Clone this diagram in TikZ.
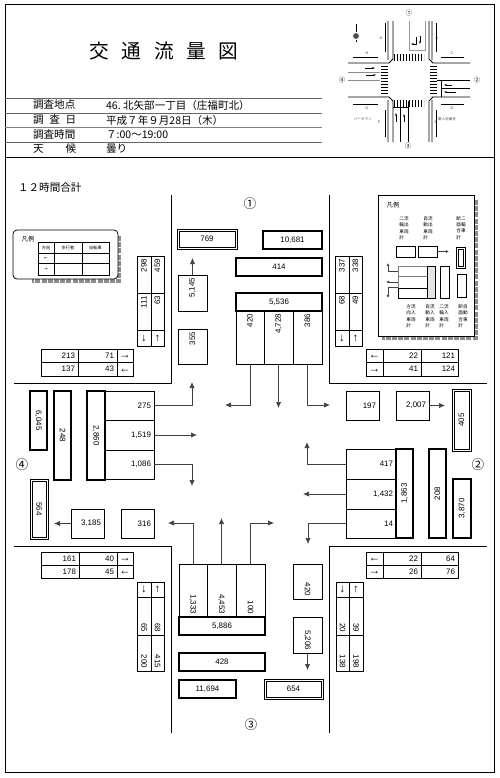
\documentclass[tikz,border=0pt]{standalone}
\usepackage{fontspec}
\setmainfont{Liberation Sans}
\newfontfamily\jp{Noto Sans CJK JP}
\newfontfamily\dejavu{DejaVu Sans}
\usepackage{tikz}
\usetikzlibrary{arrows.meta, positioning, shapes.geometric, calc}

\begin{document}
\begin{tikzpicture}[
    x=0.5mm, y=-0.5mm,
    rule/.style={line width=0.4mm},
    cnt/.style 2 args={
        draw, line width=0.35mm, inner xsep=1.5mm, inner ysep=0pt,
        text width=(#1-6)*0.5mm, minimum height=#2*0.5mm,
        font=\fontsize{11.3}{12}\selectfont, align=right
    },
    ctr/.style={align=center},
    heavy/.style={line width=1mm},
    dirc/.style 2 args={
        draw, line width=0.35mm, inner sep=0pt,
        minimum width=#1*0.5mm, minimum height=#2*0.5mm,
        text height=9pt, text depth=0pt,
        font=\fontsize{16}{16}\selectfont
    },
    flow/.style={-{Latex[length=3mm,width=2.6mm]}, line width=0.35mm, color=black!75},
    head/.style={anchor=west, inner sep=0pt, font=\jp\fontsize{15}{16}\selectfont},
    side/.style={inner sep=0pt, font=\jp\fontsize{18}{18}\selectfont},
    tiny/.style={inner sep=0pt, align=left, font=\jp\fontsize{6.6}{9.2}\selectfont},
    wee/.style={inner sep=0pt, font=\fontsize{5.5}{6}\selectfont, color=black!70},
    lgd/.style 2 args={
        draw, line width=0.35mm, inner sep=0pt,
        minimum width=#1*0.5mm, minimum height=#2*0.5mm,
        font=\jp\fontsize{6}{6}\selectfont
    },
    shadow/.style={line width=1.6mm, color=black!45, dash pattern=on 2.5mm off 0.6mm}
]
    \useasboundingbox (0,0) rectangle (500,778);

    % Sheet frame and title block
    \draw[rule] (5,4) rectangle (494,772);
    \draw[rule] (5,157) -- (494,157);
    \draw[rule, black!60] (5,98) -- (322,98);
    \draw[rule, black!60] (5,113) -- (322,113);
    \draw[rule, black!50] (5,127) -- (322,127);
    \draw[rule, black!60] (5,142) -- (322,142);
    \node[inner sep=0pt, font=\jp\fontsize{28}{28}\selectfont] (title) at (164,51)
        {交\hspace{18pt}通\hspace{18pt}流\hspace{18pt}量\hspace{18pt}図};

    \node[head, text width=21.5mm] (place) at (33,105) {調査地点};
    \node[head, text width=21.5mm] (day)   at (33,120) {調\hfill 査\hfill 日};
    \node[head, text width=21.5mm] (hours) at (33,135) {調査時間};
    \node[head, text width=21.5mm] (sky)   at (33,149) {天\hfill 候};
    \node[head] (placev) at (106,105) {46.\ 北矢部一丁目（庄福町北）};
    \node[head] (dayv)   at (106,120) {平成７年９月28日（木）};
    \node[head] (hoursv) at (106,135) {７:00〜19:00};
    \node[head] (skyv)   at (106,149) {曇り};
    \node[head] (total)  at (18,187) {１２時間合計};

    % Key map
    \node[side, font=\jp\fontsize{9}{9}\selectfont] (map1) at (409,13) {①};
    \node[side, font=\jp\fontsize{9}{9}\selectfont] (map2) at (477,80) {②};
    \node[side, font=\jp\fontsize{9}{9}\selectfont] (map3) at (408,146) {③};
    \node[side, font=\jp\fontsize{9}{9}\selectfont] (map4) at (342,80) {④};
    \draw[rule] (388,21) -- (388,60) (393,21) -- (393,59) -- (389,63) -- (348,63);
    \draw[rule] (432,21) -- (432,60) (429,21) -- (429,59) -- (433,63) -- (470,63);
    \draw[rule] (388,142) -- (388,100) (393,142) -- (393,101) -- (389,97) -- (348,97);
    \draw[rule] (432,142) -- (432,100) (429,142) -- (429,101) -- (433,97) -- (470,97);
    \draw[black!40] (409,21) -- (409,50) -| (425,21);
    \draw[rule] (400,101) -- (400,142) (408,101) -- (408,142) (393,107) -- (408,107);
    \draw[black!45] (348,72) -- (380,72) (348,80) -- (380,80);
    \draw[rule] (437,80) -- (470,80) (441,88) -- (470,88) (441,80) -- (441,97);
    % crosswalks
    \draw[line width=3.5mm, dash pattern=on 0.5mm off 1mm] (394,57) -- (424,57);
    \draw[line width=3.5mm, dash pattern=on 0.5mm off 1mm] (394,103.5) -- (424,103.5);
    \draw[line width=3.5mm, dash pattern=on 0.5mm off 1mm] (384.5,66) -- (384.5,96);
    \draw[line width=3.5mm, dash pattern=on 0.5mm off 1mm] (433,66) -- (433,96);
    % lane arrows
    \draw[-{Latex[length=1.2mm]}] (416,37) |- (411,44);
    \draw[-{Latex[length=1.2mm]}] (420,36) -- (420,44);
    \draw[-{Latex[length=1.2mm]}] (396,122) -- (396,113);
    \draw[-{Latex[length=1.2mm]}] (404,122) -- (404,114);
    \draw[-{Latex[length=1.2mm]}] (365,68) -- (375,68);
    \draw[-{Latex[length=1.2mm]}] (366,75) -- (376,75);
    \draw[-{Latex[length=1.2mm]}] (452,85) -- (444,85);
    \draw[-{Latex[length=1.2mm]}] (456,92) -- (444,92);
    % measuring lines
    \draw (385,23) -- (385,52) (436,23) -- (436,52) (385,110) -- (385,137) (436,110) -- (436,137);
    \draw (353,57) -- (378,57) (441,57) -- (464,57) (353,104) -- (378,104) (441,104) -- (464,104);
    \node[wee] (ma) at (381,38) {A};
    \node[wee] (mb) at (437,38) {B};
    \node[wee] (mc) at (452,53) {C};
    \node[wee] (md) at (452,108) {D};
    \node[wee] (me) at (436,122) {E};
    \node[wee] (mf) at (379,122) {F};
    \node[wee] (mg) at (367,108) {G};
    \node[wee] (mh) at (367,53) {H};
    \node[wee, font=\jp\fontsize{5}{5}\selectfont] (park) at (363,119) {パーキマン};
    \node[wee, font=\jp\fontsize{5}{5}\selectfont] (lot)  at (447,119) {第人地番号};
    % north mark
    \node[star, star points=8, fill=black!70, inner sep=0pt, minimum size=3.5mm] (north) at (356,36) {};
    \draw (356,24) -- (north) -- (356,42);

    % Approach numbers
    \node[side] (no1) at (250,204) {①};
    \node[side] (no2) at (478,465) {②};
    \node[side] (no3) at (251,725) {③};
    \node[side] (no4) at (22,465)  {④};

    % Road corners
    \draw[rule] (171,195) -- (171,383) -- (14,383);
    \draw[rule] (329,195) -- (329,383) -- (487,383);
    \draw[rule] (171,733) -- (171,546) -- (14,546);
    \draw[rule] (329,733) -- (329,546) -- (487,546);

    % Approach 1
    \node[lgd={60}{20}] (n769rim) at (207,239) {};
    \node[cnt={56}{16}, ctr] (n769) at (207,239) {769};
    \node[cnt={59}{18}, heavy, ctr] (n10681) at (292.5,240) {10,681};
    \node[cnt={86}{18}, heavy, ctr] (n414) at (279,267) {414};
    \node[cnt={86}{18}, heavy, ctr] (n5536) at (279,302) {5,536};
    \node[cnt={53}{28}, rotate=90] (n420) at (250,337.5) {420};
    \node[cnt={53}{29}, rotate=90] (n4728) at (278.5,337.5) {4,728};
    \node[cnt={53}{29}, rotate=90] (n386) at (307.5,337.5) {386};
    \node[cnt={36}{29}, rotate=90] (n5145) at (192.5,293) {5,145};
    \node[cnt={35}{29}, rotate=90] (n355) at (192.5,346.5) {355};
    \coordinate (n5145tip) at (192.5,258);
    \coordinate (n420tip) at (225,405);
    \coordinate (n4728tip) at (278.5,408);
    \coordinate (n386tip) at (330,405);
    \draw[flow] (n5145) -- (n5145tip);
    \draw[flow] (n420.west) |- (n420tip);
    \draw[flow] (n4728.west) -- (n4728tip);
    \draw[flow] (n386.west) |- (n386tip);

    % Approach 4
    \node[cnt={59}{17}, heavy, ctr, rotate=-90] (w6045) at (38.5,420.5) {6,045};
    \node[cnt={89}{17}, heavy, ctr, rotate=-90] (w248) at (62.5,435.5) {248};
    \node[cnt={89}{18}, heavy, ctr, rotate=-90] (w2860) at (96,435.5) {2,860};
    \node[cnt={49}{29}] (w275) at (129.5,405.5) {275};
    \node[cnt={49}{30}] (w1519) at (129.5,435) {1,519};
    \node[cnt={49}{29}] (w1086) at (129.5,464.5) {1,086};
    \node[lgd={18}{60}] (w564rim) at (39,509) {};
    \node[cnt={56}{14}, ctr, rotate=-90] (w564) at (39,509) {564};
    \node[cnt={33}{29}] (w3185) at (87.5,523.5) {3,185};
    \node[cnt={33}{29}] (w316) at (137.5,523.5) {316};
    \coordinate (w275tip) at (192,382);
    \coordinate (w1519tip) at (197,435);
    \coordinate (w1086tip) at (192,486);
    \coordinate (w3185tip) at (54,523.5);
    \draw[flow] (w275.east) -| (w275tip);
    \draw[flow] (w1519) -- (w1519tip);
    \draw[flow] (w1086.east) -| (w1086tip);
    \draw[flow] (w3185) -- (w3185tip);

    % Approach 2
    \node[cnt={33}{29}] (e197) at (362.5,405.5) {197};
    \node[cnt={33}{29}] (e2007) at (412.5,405.5) {2,007};
    \node[lgd={19}{62}] (e405rim) at (461.5,420) {};
    \node[cnt={58}{15}, ctr, rotate=90] (e405) at (461.5,420) {405};
    \node[cnt={50}{30}] (e417) at (371,464) {417};
    \node[cnt={50}{30}] (e1432) at (371,494) {1,432};
    \node[cnt={50}{29}] (e14) at (371,523.5) {14};
    \node[cnt={89}{17}, heavy, ctr, rotate=90] (e1863) at (404.5,493.5) {1,863};
    \node[cnt={89}{17}, heavy, ctr, rotate=90] (e208) at (437.5,493.5) {208};
    \node[cnt={59}{18}, heavy, ctr, rotate=90] (e3870) at (462,508.5) {3,870};
    \coordinate (e2007tip) at (445,405.5);
    \coordinate (e417tip) at (307,442);
    \coordinate (e1432tip) at (303,494);
    \coordinate (e14tip) at (308,544);
    \draw[flow] (e2007) -- (e2007tip);
    \draw[flow] (e417.west) -| (e417tip);
    \draw[flow] (e1432) -- (e1432tip);
    \draw[flow] (e14.west) -| (e14tip);

    % Approach 3
    \node[cnt={53}{28}, rotate=-90] (s1333) at (193,590.5) {1,333};
    \node[cnt={53}{29}, rotate=-90] (s4453) at (221.5,590.5) {4,453};
    \node[cnt={53}{29}, rotate=-90] (s100) at (250.5,590.5) {100};
    \node[cnt={86}{18}, heavy, ctr] (s5886) at (222,626) {5,886};
    \node[cnt={86}{18}, heavy, ctr] (s428) at (222,662) {428};
    \node[cnt={57}{18}, heavy, ctr] (s11694) at (207.5,689) {11,694};
    \node[lgd={59}{20}] (s654rim) at (293.5,689) {};
    \node[cnt={55}{16}, ctr] (s654) at (293.5,689) {654};
    \node[cnt={35}{29}, rotate=-90] (s420) at (307.5,581.5) {420};
    \node[cnt={36}{29}, rotate=-90] (s5206) at (307.5,635) {5,206};
    \coordinate (s1333tip) at (168,523);
    \coordinate (s4453tip) at (221.5,518);
    \coordinate (s100tip) at (274,523);
    \coordinate (s5206tip) at (307.5,670);
    \draw[flow] (s1333.west) |- (s1333tip);
    \draw[flow] (s4453) -- (s4453tip);
    \draw[flow] (s100.west) |- (s100tip);
    \draw[flow] (s5206) -- (s5206tip);

    % Pedestrian and cycle tables, upper left
    \node[cnt={37}{13}] (nwa) at (59.5,355.5) {213};
    \node[cnt={39}{13}] (nwb) at (97.5,355.5) {71};
    \node[dirc={16}{13}] (nwc) at (125,355.5) {→};
    \node[cnt={37}{14}] (nwd) at (59.5,369) {137};
    \node[cnt={39}{14}] (nwe) at (97.5,369) {43};
    \node[dirc={16}{14}] (nwf) at (125,369) {←};
    \node[cnt={37}{14}, rotate=90] (nwg) at (144,274.5) {298};
    \node[cnt={37}{13}, rotate=90] (nwh) at (157.5,274.5) {459};
    \node[cnt={37}{14}, rotate=90] (nwi) at (144,311.5) {111};
    \node[cnt={37}{13}, rotate=90] (nwj) at (157.5,311.5) {63};
    \node[dirc={14}{16}] (nwk) at (144,338) {↓};
    \node[dirc={13}{16}] (nwl) at (157.5,338) {↑};

    % upper right
    \node[dirc={17}{13}] (nea) at (374.5,355.5) {←};
    \node[cnt={38}{13}] (neb) at (402,355.5) {22};
    \node[cnt={37}{13}] (nec) at (439.5,355.5) {121};
    \node[dirc={17}{14}] (ned) at (374.5,369) {→};
    \node[cnt={38}{14}] (nee) at (402,369) {41};
    \node[cnt={37}{14}] (nef) at (439.5,369) {124};
    \node[cnt={37}{14}, rotate=90] (neg) at (342,274.5) {337};
    \node[cnt={37}{13}, rotate=90] (neh) at (355.5,274.5) {338};
    \node[cnt={37}{14}, rotate=90] (nei) at (342,311.5) {68};
    \node[cnt={37}{13}, rotate=90] (nej) at (355.5,311.5) {49};
    \node[dirc={14}{16}] (nek) at (342,338) {↓};
    \node[dirc={13}{16}] (nel) at (355.5,338) {↑};

    % lower left
    \node[cnt={38}{13}] (swa) at (60,558.5) {161};
    \node[cnt={38}{13}] (swb) at (98,558.5) {40};
    \node[dirc={16}{13}] (swc) at (125,558.5) {→};
    \node[cnt={38}{13}] (swd) at (60,571.5) {178};
    \node[cnt={38}{13}] (swe) at (98,571.5) {45};
    \node[dirc={16}{13}] (swf) at (125,571.5) {←};
    \node[dirc={14}{15}] (swg) at (144,589.5) {↓};
    \node[dirc={13}{15}] (swh) at (157.5,589.5) {↑};
    \node[cnt={38}{14}, rotate=-90] (swi) at (144,616) {65};
    \node[cnt={38}{13}, rotate=-90] (swj) at (157.5,616) {68};
    \node[cnt={36}{14}, rotate=-90] (swk) at (144,653) {200};
    \node[cnt={36}{13}, rotate=-90] (swl) at (157.5,653) {415};

    % lower right
    \node[dirc={17}{13}] (sea) at (374.5,558.5) {←};
    \node[cnt={38}{13}] (seb) at (402,558.5) {22};
    \node[cnt={37}{13}] (sec) at (439.5,558.5) {64};
    \node[dirc={17}{13}] (sed) at (374.5,571.5) {→};
    \node[cnt={38}{13}] (see) at (402,571.5) {26};
    \node[cnt={37}{13}] (sef) at (439.5,571.5) {76};
    \node[dirc={13}{15}] (seg) at (342.5,589.5) {↓};
    \node[dirc={14}{15}] (seh) at (356,589.5) {↑};
    \node[cnt={38}{13}, rotate=-90] (sei) at (342.5,616) {20};
    \node[cnt={38}{14}, rotate=-90] (sej) at (356,616) {39};
    \node[cnt={36}{13}, rotate=-90] (sek) at (342.5,653) {138};
    \node[cnt={36}{14}, rotate=-90] (sel) at (356,653) {198};

    % Small legend
    \draw[shadow] (119.5,236) -- (119.5,281) -- (32,281);
    \draw[rule, rounded corners=2mm, fill=white] (13,230) rectangle (118,279);
    \node[tiny, font=\jp\fontsize{9}{9}\selectfont] (keya) at (28,239) {凡例};
    \node[lgd={16}{11}] (keyb) at (46,247.5) {方向};
    \node[lgd={28}{11}] (keyc) at (68,247.5) {歩行者};
    \node[lgd={27}{11}] (keyd) at (95.5,247.5) {自転車};
    \node[lgd={16}{10}, font=\dejavu\fontsize{6}{6}\selectfont] (keye) at (46,258) {←};
    \node[lgd={28}{10}] (keyf) at (68,258) {};
    \node[lgd={27}{10}] (keyg) at (95.5,258) {};
    \node[lgd={16}{12}, font=\dejavu\fontsize{6}{6}\selectfont] (keyh) at (46,269) {→};
    \node[lgd={28}{12}] (keyi) at (68,269) {};
    \node[lgd={27}{12}] (keyj) at (95.5,269) {};

    % Large legend
    \draw[shadow] (476,200) -- (476,338) -- (382,338);
    \draw[rule, fill=white] (378,195) rectangle (474,336);
    \node[tiny, font=\jp\fontsize{9}{9}\selectfont] (keyk) at (393,205) {凡例};
    \node[tiny] (keyl) at (404,228) {二流\\輪出\\車両\\計};
    \node[tiny] (keym) at (428,228) {自流\\動出\\車両\\計};
    \node[tiny] (keyn) at (461,228) {断二\\面輪\\合車\\計};
    \node[tiny] (keyo) at (411,316) {方流\\向入\\車両\\計};
    \node[tiny] (keyp) at (430,316) {自流\\動入\\車両\\計};
    \node[tiny] (keyq) at (444,316) {二流\\輪入\\車両\\計};
    \node[tiny] (keyr) at (463,316) {断自\\面動\\合車\\計};
    \node[lgd={19}{11}] (keys) at (405.5,251.5) {};
    \node[lgd={19}{11}] (keyt) at (427.5,251.5) {};
    \node[lgd={9}{21}] (keyurim) at (461,257.5) {};
    \node[lgd={5}{17}] (keyu) at (461,257.5) {};
    \node[lgd={29}{10}, draw=black!50] (keyv) at (412.5,271) {};
    \node[lgd={29}{12}, draw=black!50] (keyw) at (412.5,282) {};
    \node[lgd={29}{10}] (keyx) at (412.5,293) {};
    \node[lgd={8}{32}, fill=black!10] (keyy) at (431,282) {};
    \node[lgd={9}{32}] (keyz) at (444.5,282) {};
    \node[lgd={9}{23}] (keyaa) at (461.5,285.5) {};
    \coordinate (keyttip) at (449,251.5);
    \coordinate (keyvtip) at (388,263);
    \coordinate (keywtip) at (386,282);
    \coordinate (keyxtip) at (388,298);
    \draw[flow, -{Latex[length=1.6mm,width=1.6mm]}] (keyt) -- (keyttip);
    \draw[flow, -{Latex[length=1.6mm,width=1.6mm]}] (keyv.west) -| (keyvtip);
    \draw[flow, -{Latex[length=1.6mm,width=1.6mm]}] (keyw.west) -- (keywtip);
    \draw[flow, -{Latex[length=1.6mm,width=1.6mm]}] (keyx.north west) -| (keyxtip);
\end{tikzpicture}
\end{document}
